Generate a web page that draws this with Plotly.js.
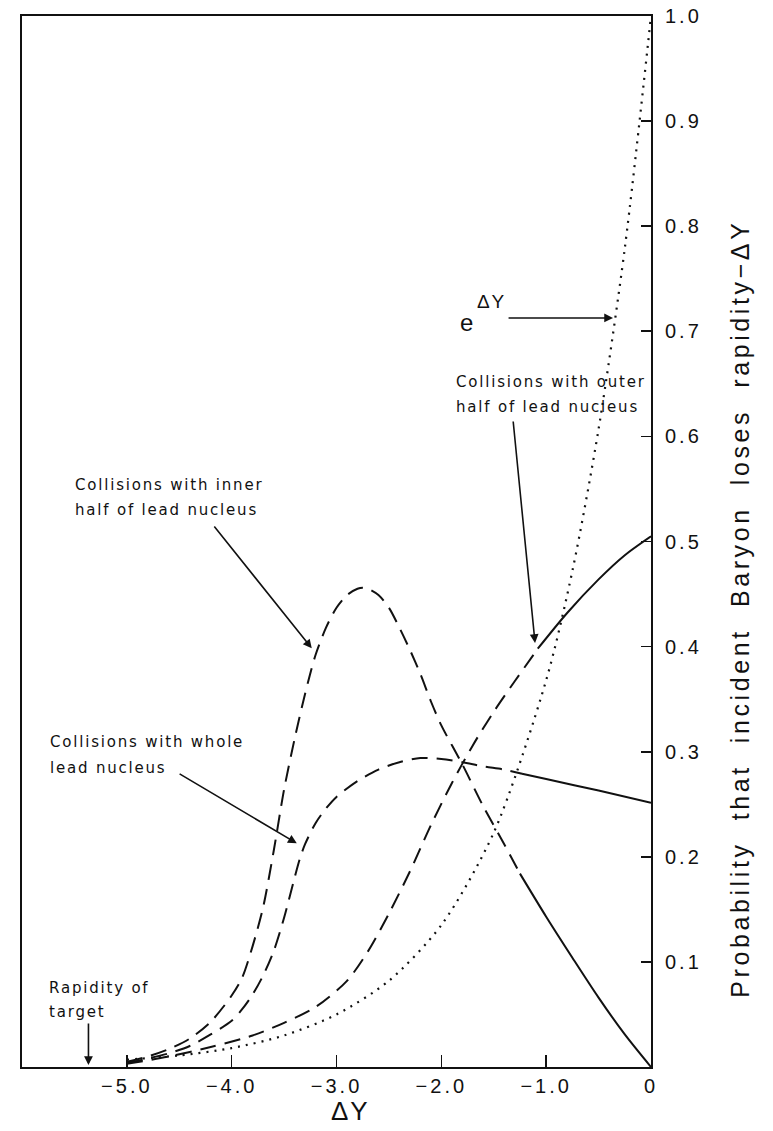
<!DOCTYPE html>
<html>
<head>
<meta charset="utf-8">
<script src="https://cdn.plot.ly/plotly-3.0.1.min.js"></script>
<style>
  html, body { margin: 0; padding: 0; background: #fff; }
  #chart { width: 773px; height: 1131px; }
  /* hand-lettered look: loose tracking on labels */
  .annotation-text { letter-spacing: 1.8px; }
  .xtick text { letter-spacing: 3px; }
  .ytick text { letter-spacing: 3px; }
</style>
</head>
<body>
<div id="chart"></div>
<script>
// ΔY values and probabilities for each curve.
// Dashed part of each curve, then the solid part that continues it to ΔY = 0.

// e^ΔY (dotted)
const expDY = [-5.0, -4.5, -4.0, -3.5, -3.0, -2.5, -2.0, -1.5, -1.0, -0.75, -0.5, -0.25, 0];
const expP  = [0.007, 0.011, 0.018, 0.030, 0.050, 0.082, 0.135, 0.223, 0.368, 0.472, 0.607, 0.779, 1.0];

// inner half of lead nucleus
const innerDashDY = [-5.0, -4.8, -4.6, -4.4, -4.2, -4.0, -3.9, -3.8, -3.7, -3.6, -3.5, -3.4, -3.3, -3.2, -3.1,
                     -3.0, -2.9, -2.8, -2.75, -2.7, -2.6, -2.5, -2.4, -2.3, -2.2, -2.1, -2.0, -1.8, -1.6, -1.4, -1.25];
const innerDashP  = [0.005, 0.010, 0.017, 0.027, 0.043, 0.068, 0.085, 0.115, 0.152, 0.205, 0.264, 0.312, 0.355, 0.392, 0.418,
                     0.437, 0.449, 0.455, 0.456, 0.455, 0.449, 0.437, 0.418, 0.397, 0.374, 0.348, 0.325, 0.288, 0.248, 0.212, 0.184];
const innerSolidDY = [-1.25, -1.0, -0.75, -0.5, -0.25, 0];
const innerSolidP  = [0.184, 0.143, 0.104, 0.066, 0.031, 0.0];

// whole lead nucleus
const wholeDashDY = [-5.0, -4.8, -4.6, -4.4, -4.2, -4.0, -3.9, -3.8, -3.7, -3.6, -3.5, -3.4, -3.35, -3.3, -3.2,
                     -3.1, -3.0, -2.8, -2.6, -2.4, -2.2, -2.0, -1.8, -1.6, -1.4, -1.23];
const wholeDashP  = [0.004, 0.008, 0.013, 0.020, 0.031, 0.044, 0.055, 0.069, 0.087, 0.110, 0.142, 0.180, 0.198, 0.212, 0.232,
                     0.246, 0.257, 0.272, 0.283, 0.290, 0.294, 0.293, 0.290, 0.286, 0.283, 0.279];
const wholeSolidDY = [-1.23, -1.0, -0.5, 0];
const wholeSolidP  = [0.279, 0.274, 0.263, 0.2515];

// outer half of lead nucleus
const outerDashDY = [-5.0, -4.6, -4.2, -3.8, -3.5, -3.2, -2.9, -2.7, -2.5, -2.3, -2.1, -1.9, -1.7, -1.5, -1.3, -1.08];
const outerDashP  = [0.003, 0.010, 0.019, 0.030, 0.042, 0.057, 0.082, 0.110, 0.146, 0.186, 0.230, 0.270, 0.306, 0.338, 0.367, 0.398];
const outerSolidDY = [-1.08, -0.8, -0.5, -0.25, 0];
const outerSolidP  = [0.398, 0.432, 0.464, 0.487, 0.505];

// axis ticks
const xTickVals = [-5, -4, -3, -2, -1, 0];
const xTickText = ['\u22125.0', '\u22124.0', '\u22123.0', '\u22122.0', '\u22121.0', '0'];
const yTickVals = [0.1, 0.2, 0.3, 0.4, 0.5, 0.6, 0.7, 0.8, 0.9, 1.0];
const yTickText = ['0.1', '0.2', '0.3', '0.4', '0.5', '0.6', '0.7', '0.8', '0.9', '1.0'];

const INK = '#111';
const DASH = '16px,9px';
const DOT = '2px,6px';

function curve(x, y, dash, width) {
  return {
    x: x, y: y, type: 'scatter', mode: 'lines',
    line: { color: INK, width: width, dash: dash, shape: 'spline', smoothing: 0.8 },
    hoverinfo: 'skip', showlegend: false
  };
}

const traces = [
  curve(expDY, expP, DOT, 2.2),
  curve(innerDashDY, innerDashP, DASH, 2),
  curve(innerSolidDY, innerSolidP, 'solid', 2),
  curve(wholeDashDY, wholeDashP, DASH, 2),
  curve(wholeSolidDY, wholeSolidP, 'solid', 2),
  curve(outerDashDY, outerDashP, DASH, 2),
  curve(outerSolidDY, outerSolidP, 'solid', 2)
];

const noteFont = { family: 'DejaVu Sans, sans-serif', size: 15, color: '#111' };

function note(text, x, y) {
  return { text: text, x: x, y: y, xref: 'x', yref: 'y', xanchor: 'left', yanchor: 'middle',
           showarrow: false, font: noteFont };
}

function arrow(tailX, tailY, tipX, tipY) {
  return { text: '', x: tipX, y: tipY, ax: tailX, ay: tailY, xref: 'x', yref: 'y', axref: 'x', ayref: 'y',
           showarrow: true, arrowhead: 2, arrowsize: 1.1, arrowwidth: 1.6, arrowcolor: INK,
           standoff: 0, startstandoff: 0 };
}

const annotations = [
  note('Collisions with outer', -1.88, 0.652),
  note('half of lead nucleus', -1.88, 0.628),
  note('Collisions with inner', -5.512, 0.554),
  note('half of lead nucleus', -5.512, 0.530),
  note('Collisions with whole', -5.75, 0.309),
  note('lead nucleus', -5.75, 0.2845),
  note('Rapidity of', -5.76, 0.0752),
  note('target', -5.76, 0.0523),
  { text: 'e', x: -1.84, y: 0.708, xref: 'x', yref: 'y', xanchor: 'left', yanchor: 'middle',
    showarrow: false, font: { family: 'Liberation Sans, sans-serif', size: 24, color: INK } },
  { text: '\u0394Y', x: -1.68, y: 0.728, xref: 'x', yref: 'y', xanchor: 'left', yanchor: 'middle',
    showarrow: false, font: { family: 'Liberation Sans, sans-serif', size: 19, color: INK } },

  arrow(-1.373, 0.7127, -0.362, 0.7127),
  arrow(-1.316, 0.6156, -1.106, 0.4034),
  arrow(-4.177, 0.5157, -3.236, 0.3984),
  arrow(-4.511, 0.2797, -3.379, 0.2128),
  arrow(-5.366, 0.0428, -5.366, 0.0019),

  // axis titles
  { text: '\u0394Y', x: 0.521, y: -0.0415, xref: 'paper', yref: 'paper', xanchor: 'center', yanchor: 'middle',
    showarrow: false, font: { family: 'Liberation Sans, sans-serif', size: 26, color: INK } },
  { text: '<span style="letter-spacing:3.6px">Probability  that  incident  Baryon  loses  rapidity\u2212\u0394Y</span>',
    x: 1.1415, y: 0.436, xref: 'paper', yref: 'paper', xanchor: 'center', yanchor: 'middle', textangle: -90,
    showarrow: false, font: { family: 'Liberation Sans, sans-serif', size: 25, color: INK } }
];

const layout = {
  width: 773, height: 1131,
  margin: { l: 22, r: 122, t: 16, b: 64, pad: 0 },
  paper_bgcolor: '#fff', plot_bgcolor: '#fff',
  showlegend: false,
  xaxis: {
    range: [-6, 0], showgrid: false, zeroline: false,
    showline: true, mirror: true, linecolor: INK, linewidth: 2,
    ticks: 'inside', ticklen: 12, tickwidth: 1.6, tickcolor: INK,
    tickmode: 'array', tickvals: xTickVals, ticktext: xTickText,
    tickfont: { family: 'Liberation Sans, sans-serif', size: 20, color: INK }
  },
  yaxis: {
    range: [0, 1], side: 'right', showgrid: false, zeroline: false,
    showline: true, mirror: true, linecolor: INK, linewidth: 2,
    ticks: 'inside', ticklen: 10, tickwidth: 1.6, tickcolor: INK,
    tickmode: 'array', tickvals: yTickVals, ticktext: yTickText,
    ticklabelstandoff: 8,
    tickfont: { family: 'Liberation Sans, sans-serif', size: 20, color: INK }
  },
  annotations: annotations
};

Plotly.newPlot('chart', traces, layout, { staticPlot: true, displayModeBar: false });
</script>
</body>
</html>
